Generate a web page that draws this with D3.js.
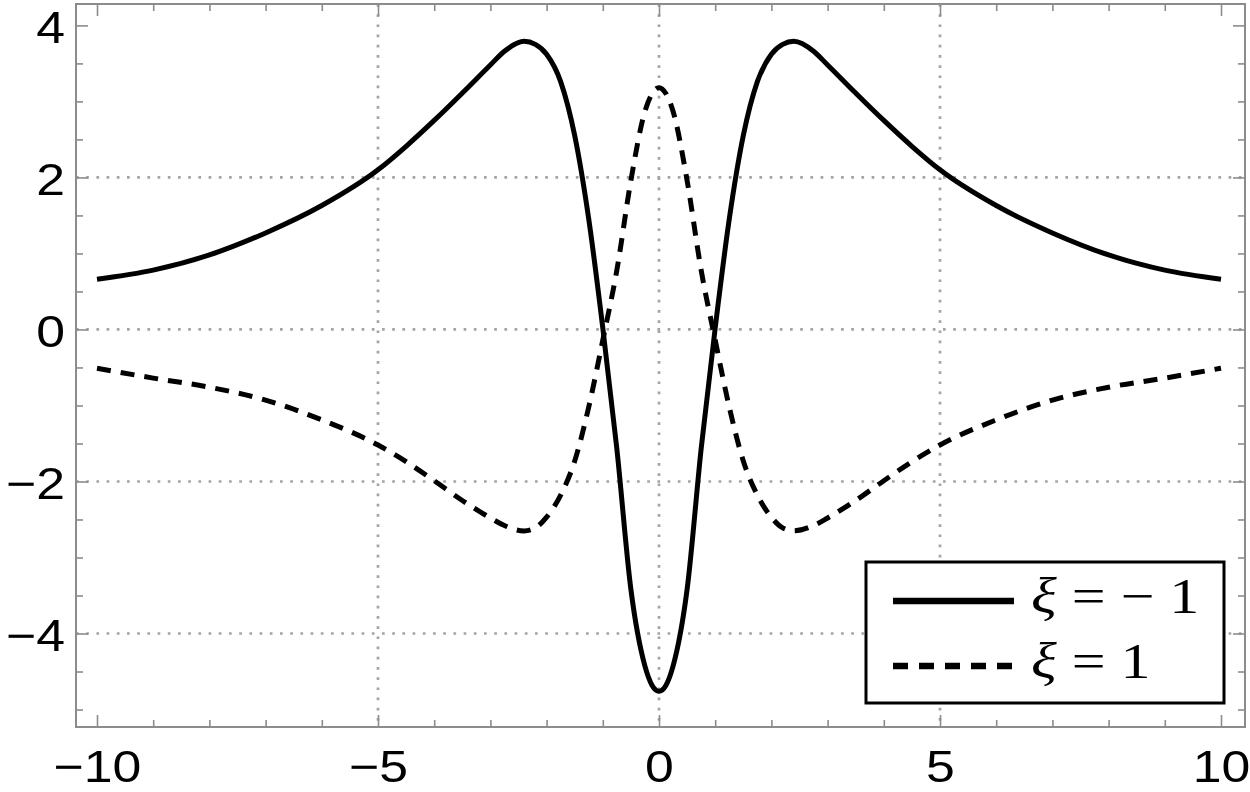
<!DOCTYPE html>
<html><head><meta charset="utf-8">
<script src="https://cdn.jsdelivr.net/npm/d3@7/dist/d3.min.js"></script>
<style>
html,body{margin:0;padding:0;background:#fff;}
svg{display:block;}
</style></head>
<body>
<svg id="chart" width="1250" height="792"></svg>
<script>
// ---------- data ----------
const xValues = [-10,-9,-8,-7,-6,-5,-4.5,-4,-3.5,-3,-2.75,-2.4,-2.2,-2,-1.75,-1.5,-1.25,-1,-0.75,-0.5,-0.25,-0.125,0,
                 0.125,0.25,0.5,0.75,1,1.25,1.5,1.75,2,2.2,2.4,2.75,3,3.5,4,4.5,5,6,7,8,9,10];
const xiMinus1 = [0.66,0.78,0.98,1.27,1.63,2.10,2.41,2.75,3.11,3.48,3.66,3.79,3.75,3.62,3.26,2.55,1.45,0.02,-1.57,-3.42,-4.43,-4.68,-4.76,
                  -4.68,-4.43,-3.42,-1.57,0.02,1.45,2.55,3.26,3.62,3.75,3.79,3.66,3.48,3.11,2.75,2.41,2.10,1.63,1.27,0.98,0.78,0.66];
const xiPlus1  = [-0.51,-0.64,-0.76,-0.93,-1.19,-1.52,-1.74,-1.99,-2.25,-2.48,-2.58,-2.65,-2.61,-2.47,-2.18,-1.73,-1.02,-0.14,0.78,1.96,2.87,3.10,3.18,
                  3.10,2.87,1.96,0.78,-0.14,-1.02,-1.73,-2.18,-2.47,-2.61,-2.65,-2.58,-2.48,-2.25,-1.99,-1.74,-1.52,-1.19,-0.93,-0.76,-0.64,-0.51];
const xMajorTicks = [-10,-5,0,5,10];
const xMinorTicks = d3.range(-10,11,1).filter(v => v % 5 !== 0);
const yMajorTicks = [-4,-2,0,2,4];
const yMinorTicks = d3.range(-5,4.01,0.5).filter(v => v % 2 !== 0);
const xGrid = [-5,0,5];
const yGrid = [-4,-2,0,2];
const legendLabels = [["ξ"," = − 1"],["ξ"," = 1"]];

// ---------- layout ----------
const svg = d3.select("#chart");
const frame = {left:76, right:1245, top:4, bottom:727};
const x = d3.scaleLinear().domain([-10,10]).range([97,1221]);
const y = d3.scaleLinear().domain([-4,4]).range([633.5,25.4]);
const gray = "#8c8c8c";

// grid lines
const g = svg.append("g");
g.selectAll("line.vg").data(xGrid).join("line")
  .attr("x1",d=>x(d)).attr("x2",d=>x(d)).attr("y1",frame.top).attr("y2",frame.bottom)
  .attr("stroke","#a4a4a4").attr("stroke-width",2.7).attr("stroke-dasharray","2.7 7.5");
g.selectAll("line.hg").data(yGrid).join("line")
  .attr("y1",d=>y(d)).attr("y2",d=>y(d)).attr("x1",frame.left).attr("x2",frame.right)
  .attr("stroke","#a4a4a4").attr("stroke-width",2.7).attr("stroke-dasharray","2.7 7.5");

// curves
const pts1 = xValues.map((v,i)=>[v,xiMinus1[i]]);
const pts2 = xValues.map((v,i)=>[v,xiPlus1[i]]);
const line = d3.line().x(d=>x(d[0])).y(d=>y(d[1])).curve(d3.curveMonotoneX);
svg.append("path").attr("d",line(pts2)).attr("fill","none").attr("stroke","#000")
  .attr("stroke-width",5).attr("stroke-dasharray","14 10");
svg.append("path").attr("d",line(pts1)).attr("fill","none").attr("stroke","#000")
  .attr("stroke-width",5);

// frame
svg.append("rect").attr("x",frame.left).attr("y",frame.top)
  .attr("width",frame.right-frame.left).attr("height",frame.bottom-frame.top)
  .attr("fill","none").attr("stroke",gray).attr("stroke-width",2);

function styleAxis(sel){
  sel.select(".domain").remove();
  sel.selectAll(".tick line").attr("stroke",gray).attr("stroke-width",1.6);
}
const fontCss = "'Liberation Sans', Arial, sans-serif";
// bottom
svg.append("g").attr("transform",`translate(0,${frame.bottom})`)
  .call(d3.axisBottom(x).tickValues(xMinorTicks).tickSize(-7).tickFormat(""))
  .call(styleAxis);
const bx = svg.append("g").attr("transform",`translate(0,${frame.bottom})`)
  .call(d3.axisBottom(x).tickValues(xMajorTicks).tickSize(-12).tickFormat(d3.format("d")))
  .call(styleAxis);
bx.selectAll(".tick text").attr("y",0).attr("dy",0)
  .attr("transform","translate(0,55) scale(1.15,1)")
  .attr("fill","#000").style("font-family",fontCss).style("font-size","45px").attr("text-anchor","middle");
// top
svg.append("g").attr("transform",`translate(0,${frame.top})`)
  .call(d3.axisTop(x).tickValues(xMinorTicks).tickSize(-7).tickFormat(""))
  .call(styleAxis);
svg.append("g").attr("transform",`translate(0,${frame.top})`)
  .call(d3.axisTop(x).tickValues(xMajorTicks).tickSize(-12).tickFormat(""))
  .call(styleAxis);
// left
svg.append("g").attr("transform",`translate(${frame.left},0)`)
  .call(d3.axisLeft(y).tickValues(yMinorTicks).tickSize(-7).tickFormat(""))
  .call(styleAxis);
const ly = svg.append("g").attr("transform",`translate(${frame.left},0)`)
  .call(d3.axisLeft(y).tickValues(yMajorTicks).tickSize(-12).tickFormat(d3.format("d")))
  .call(styleAxis);
ly.selectAll(".tick text").attr("x",0).attr("dy",0)
  .attr("transform","translate(-11,17) scale(1.15,1)")
  .attr("fill","#000").style("font-family",fontCss).style("font-size","45px").attr("text-anchor","end");
// right
svg.append("g").attr("transform",`translate(${frame.right},0)`)
  .call(d3.axisRight(y).tickValues(yMinorTicks).tickSize(-7).tickFormat(""))
  .call(styleAxis);
svg.append("g").attr("transform",`translate(${frame.right},0)`)
  .call(d3.axisRight(y).tickValues(yMajorTicks).tickSize(-12).tickFormat(""))
  .call(styleAxis);

// legend
const leg = svg.append("g");
leg.append("rect").attr("x",866).attr("y",562).attr("width",358).attr("height",141)
  .attr("fill","#fff").attr("stroke","#000").attr("stroke-width",3);
const rows = [{dash:null, y:601, base:613},{dash:"15 11", y:666, base:678}];
rows.forEach((r,i)=>{
  leg.append("line").attr("x1",893).attr("x2",1014).attr("y1",r.y).attr("y2",r.y)
    .attr("stroke","#000").attr("stroke-width",6.5).attr("stroke-dasharray",r.dash);
  const t = leg.append("text").attr("transform",`translate(1031,${r.base}) scale(1.2,1)`)
    .style("font-family","'Liberation Serif','Times New Roman',serif").style("font-size","50px").attr("fill","#000");
  t.append("tspan").style("font-style","italic").text(legendLabels[i][0]);
  t.append("tspan").text(legendLabels[i][1]);
});
</script>
</body></html>
